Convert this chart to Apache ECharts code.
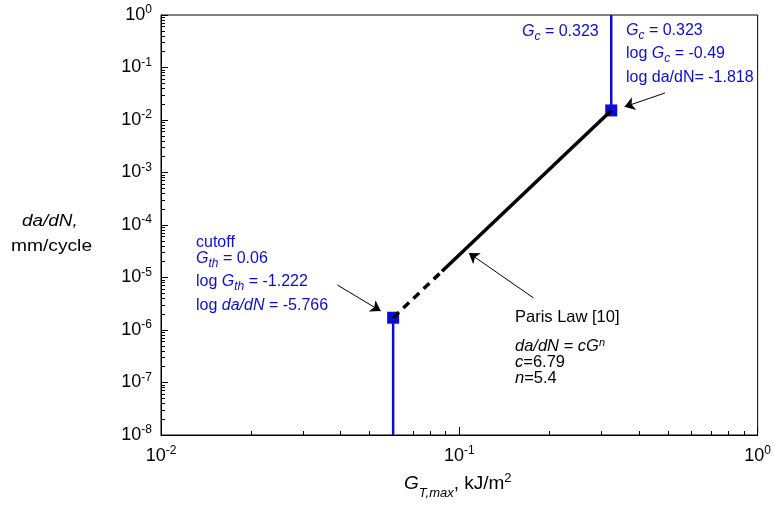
<!DOCTYPE html>
<html>
<head>
<meta charset="utf-8">
<script src="https://cdn.jsdelivr.net/npm/echarts@6/dist/echarts.min.js"></script>
<style>
  html, body { margin: 0; padding: 0; background: #fff; }
  #chart { width: 774px; height: 509px; }
</style>
</head>
<body>
<div id="chart"></div>
<script>
  // Paris law line (end points are labelled)
  var parisSolid = [[0.0875, 1.315e-5], [0.323, 0.01521]];
  var parisDashed = [[0.06, 1.714e-6], [0.0875, 1.315e-5]];
  // blue cutoff lines
  var thLine = [[0.06, 1e-8], [0.06, 1.714e-6]];
  var gcLine = [[0.323, 0.01521], [0.323, 1]];
  var squares = [[0.06, 1.714e-6], [0.323, 0.01521]];
  // annotation arrows: [from, to]
  var arrows = [
    [[0.039, 7.2e-6], [0.0545, 2.3e-6]],
    [[0.489, 0.0327], [0.358, 0.0178]],
    [[0.1774, 4.07e-6], [0.1076, 2.93e-5]]
  ];
  var xRange = [0.01, 1];
  var yRange = [1e-8, 1];

  // minor ticks 2..9 per decade
  function minors(lo, hi) {
    var out = [];
    for (var e = Math.round(Math.log10(lo)); e < Math.round(Math.log10(hi)); e++) {
      for (var k = 2; k <= 9; k++) out.push(k * Math.pow(10, e));
    }
    return out;
  }

  var FONT = 'Liberation Sans';
  var BLUE = '#0c0cd8';

  function powLabel(v) {
    var e = Math.round(Math.log10(v));
    return '{b|10}{s|' + e + '}';
  }
  var powRich = {
    b: { fontSize: 18, fontFamily: FONT, color: '#000' },
    s: { fontSize: 12, fontFamily: FONT, color: '#000', padding: [0, 0, 10, 0] }
  };

  var myChart = echarts.init(document.getElementById('chart'));

  function txt(left, top, text, rich, color) {
    return {
      type: 'text', left: left, top: top,
      style: { text: text, rich: rich, fill: color, font: '16px ' + FONT }
    };
  }
  var blueRich = {
    n: { fontSize: 16, fontFamily: FONT, color: BLUE },
    i: { fontSize: 16, fontFamily: FONT, fontStyle: 'italic', color: BLUE },
    sub: { fontSize: 12, fontFamily: FONT, fontStyle: 'italic', color: BLUE, padding: [9, 0, 0, 0] }
  };
  var blackRich = {
    n: { fontSize: 16.5, fontFamily: FONT, color: '#000' },
    i: { fontSize: 16.5, fontFamily: FONT, fontStyle: 'italic', color: '#000' },
    sup: { fontSize: 11, fontFamily: FONT, fontStyle: 'italic', color: '#000', padding: [0, 0, 8, 0] }
  };

  var option = {
    animation: false,
    grid: {
      left: 161, right: 14, top: 15, bottom: 74,
      show: true, borderColor: '#000', borderWidth: 1
    },
    xAxis: [{
      type: 'log', logBase: 10, min: xRange[0], max: xRange[1],
      axisLine: { lineStyle: { color: '#000', width: 1 } },
      axisTick: { inside: true, length: 8, lineStyle: { color: '#000' } },
      axisLabel: { formatter: powLabel, rich: powRich, margin: 10 },
      splitLine: { show: false }
    }, {
      type: 'log', logBase: 10, min: xRange[0], max: xRange[1], position: 'bottom',
      axisLine: { show: false },
      axisTick: { inside: true, length: 4, customValues: minors(xRange[0], xRange[1]), lineStyle: { color: '#000' } },
      axisLabel: { show: false },
      splitLine: { show: false }
    }],
    yAxis: [{
      type: 'log', logBase: 10, min: yRange[0], max: yRange[1],
      axisLine: { lineStyle: { color: '#000', width: 1 } },
      axisTick: { inside: true, length: 7, lineStyle: { color: '#000' } },
      axisLabel: { formatter: powLabel, rich: powRich, margin: 9 },
      splitLine: { show: false }
    }, {
      type: 'log', logBase: 10, min: yRange[0], max: yRange[1], position: 'left',
      axisLine: { show: false },
      axisTick: { inside: true, length: 4, customValues: minors(yRange[0], yRange[1]), lineStyle: { color: '#000' } },
      axisLabel: { show: false },
      splitLine: { show: false }
    }],
    series: [
      {
        type: 'line', data: parisSolid, symbol: 'none',
        lineStyle: { color: '#000', width: 3.5 },
        markLine: {
          silent: true, symbol: ['none', 'arrow'], symbolSize: 10,
          lineStyle: { color: '#000', width: 1, type: 'solid' },
          itemStyle: { color: '#000' },
          label: { show: false },
          data: arrows.map(function (a) { return [{ coord: a[0] }, { coord: a[1] }]; })
        }
      },
      {
        type: 'line', data: parisDashed, symbol: 'none',
        lineStyle: { color: '#000', width: 3.5, type: [8, 6] }
      },
      { type: 'line', data: thLine, symbol: 'none', lineStyle: { color: BLUE, width: 2.5 } },
      { type: 'line', data: gcLine, symbol: 'none', lineStyle: { color: BLUE, width: 2.5 } },
      {
        type: 'scatter', data: squares, symbol: 'rect', symbolSize: 12,
        itemStyle: { color: BLUE, opacity: 1 }
      }
    ],
    graphic: [
      // y axis name (reference text is a little stretched sideways)
      { type: 'text', left: 22, top: 214, scaleX: 1.18, style: { text: 'da/dN,', font: 'italic 16px ' + FONT, fill: '#000' } },
      { type: 'text', left: 11, top: 239, scaleX: 1.2, style: { text: 'mm/cycle', font: '16px ' + FONT, fill: '#000' } },
      // x axis name
      txt(404, 472, '{i|G}{sub|T,max}{n|, kJ/m}{sup|2}', {
        n: { fontSize: 19, fontFamily: FONT, color: '#000' },
        i: { fontSize: 19, fontFamily: FONT, fontStyle: 'italic', color: '#000' },
        sup: { fontSize: 13, fontFamily: FONT, color: '#000', padding: [0, 0, 11, 0] },
        sub: { fontSize: 13, fontFamily: FONT, fontStyle: 'italic', color: '#000', padding: [18, 0, 0, 0] }
      }, '#000'),
      // upper annotations
      txt(522, 24, '{i|G}{sub|c}{n| = 0.323}', blueRich, BLUE),
      txt(626, 23, '{i|G}{sub|c}{n| = 0.323}', blueRich, BLUE),
      txt(626, 46, '{n|log }{i|G}{sub|c}{n| = -0.49}', blueRich, BLUE),
      txt(626, 70, '{n|log da/dN= -1.818}', blueRich, BLUE),
      // lower annotations
      txt(196, 235, '{n|cutoff}', blueRich, BLUE),
      txt(196, 251, '{i|G}{sub|th}{n| = 0.06}', blueRich, BLUE),
      txt(196, 274, '{n|log }{i|G}{sub|th}{n| = -1.222}', blueRich, BLUE),
      txt(196, 298, '{n|log }{i|da/dN}{n| = -5.766}', blueRich, BLUE),
      // Paris law
      txt(515, 309, '{n|Paris Law [10]}', blackRich, '#000'),
      txt(515, 337, '{i|da/dN = cG}{sup|n}', blackRich, '#000'),
      txt(515, 354, '{i|c}{n|=6.79}', blackRich, '#000'),
      txt(515, 370, '{i|n}{n|=5.4}', blackRich, '#000')
    ]
  };
  myChart.setOption(option);
</script>
</body>
</html>
